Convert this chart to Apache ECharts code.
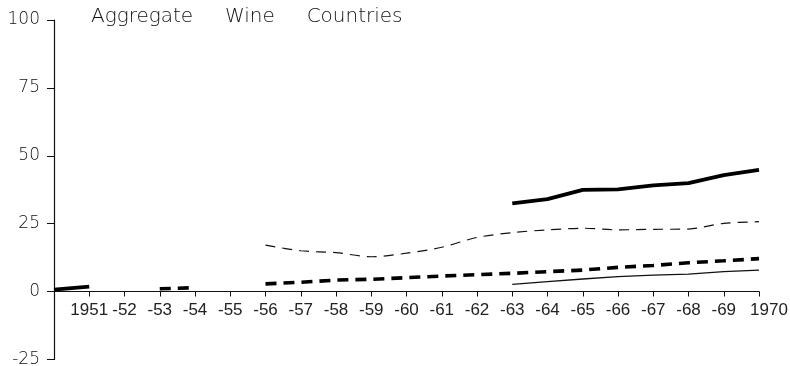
<!DOCTYPE html>
<html>
<head>
<meta charset="utf-8">
<script src="https://cdn.jsdelivr.net/npm/echarts@6/dist/echarts.min.js"></script>
<style>
html,body{margin:0;padding:0;background:#fff;}
#c{width:790px;height:366px;}
</style>
</head>
<body>
<div id="c"></div>
<script>
const years = [1950,1951,1952,1953,1954,1955,1956,1957,1958,1959,1960,1961,1962,1963,1964,1965,1966,1967,1968,1969,1970];
const tickLabels = ['', '1951', '-52', '-53', '-54', '-55', '-56', '-57', '-58', '-59', '-60', '-61', '-62', '-63', '-64', '-65', '-66', '-67', '-68', '-69', '1970'];
const yTicks = [-25, 0, 25, 50, 75, 100];
const titleText = 'Aggregate     Wine     Countries';

const thickSolid  = [0.7, 1.8, null, null, null, null, null, null, null, null, null, null, null, 32.5, 34.0, 37.4, 37.6, 39.1, 39.9, 42.9, 44.8];
const thickDashed = [null, null, null, 1.0, 1.4, null, 2.8, 3.4, 4.2, 4.5, 5.1, 5.7, 6.2, 6.7, 7.3, 7.9, 8.9, 9.6, 10.6, 11.3, 12.1];
const thinDashed  = [null, null, null, null, null, null, 17.1, 15.0, 14.3, 12.8, 14.1, 16.3, 19.9, 21.7, 22.7, 23.3, 22.7, 22.9, 23.0, 25.1, 25.7];
const thinSolid   = [null, null, null, null, null, null, null, null, null, null, null, null, null, 2.6, 3.6, 4.6, 5.5, 6.0, 6.4, 7.3, 7.9];

function pairs(vals){ return years.map((y,i)=>[y, vals[i]]); }

const W = 790, H = 366;
const plotTop = 20, plotLeft = 54, plotRight = 31, zeroY = 291.5, bottomY = 359.4;
const axisCol = '#111';
const yLabStyle = {fontFamily:'DejaVu Sans', fontWeight:200, fontSize:17, color:'#111'};
const xLabFont = 'Liberation Sans Narrow, Liberation Sans';

const chart = echarts.init(document.getElementById('c'), null, {renderer:'canvas'});
chart.setOption({
  backgroundColor:'#ffffff',
  animation:false,
  title:{
    text:titleText,
    left:86, top:2,
    textStyle:{fontFamily:'DejaVu Sans', fontSize:20, fontWeight:200, color:'#111'}
  },
  grid:[
    {left:plotLeft, right:plotRight, top:plotTop, bottom:H-zeroY, containLabel:false, outerBoundsMode:'none'},
    {left:plotLeft, right:plotRight, top:zeroY, bottom:H-bottomY, containLabel:false, outerBoundsMode:'none'}
  ],
  xAxis:[
    {
      gridIndex:0, type:'value', min:years[0], max:years[years.length-1], interval:1,
      axisLine:{show:true, onZero:false, lineStyle:{color:axisCol, width:1.2}},
      axisTick:{show:true, length:5, lineStyle:{color:axisCol, width:1}},
      splitLine:{show:false},
      axisLabel:{
        margin:10, showMinLabel:true, showMaxLabel:true, hideOverlap:false,
        fontFamily:xLabFont, fontSize:17, color:'#222',
        formatter:function(v){ const i = Math.round(v) - years[0]; const t = tickLabels[i] || ''; return i === tickLabels.length-1 ? '{r|'+t+'}' : t; },
        rich:{r:{fontFamily:xLabFont, fontSize:17, color:'#222', padding:[0,0,0,20]}}
      }
    },
    {
      gridIndex:1, type:'value', min:years[0], max:years[years.length-1], show:false
    }
  ],
  yAxis:[
    {
      gridIndex:0, type:'value', min:0, max:yTicks[yTicks.length-1], interval:25,
      axisLine:{show:true, onZero:false, lineStyle:{color:axisCol, width:1.2}},
      axisTick:{show:true, length:7, lineStyle:{color:axisCol, width:1}},
      splitLine:{show:false},
      axisLabel:Object.assign({margin:14}, yLabStyle)
    },
    {
      gridIndex:1, type:'value', min:yTicks[0], max:0, interval:25,
      axisLine:{show:true, onZero:false, lineStyle:{color:axisCol, width:1.2}},
      axisTick:{show:true, length:7, lineStyle:{color:axisCol, width:1}},
      splitLine:{show:false},
      axisLabel:Object.assign({margin:14, showMaxLabel:false,
        formatter:function(v){ return v === 0 ? '' : String(v); }}, yLabStyle)
    }
  ],
  series:[
    {name:'thick solid', type:'line', xAxisIndex:0, yAxisIndex:0, data:pairs(thickSolid), showSymbol:false, connectNulls:false,
     lineStyle:{color:'#000', width:3.8, type:'solid'}},
    {name:'thick dashed', type:'line', xAxisIndex:0, yAxisIndex:0, data:pairs(thickDashed), showSymbol:false, connectNulls:false,
     lineStyle:{color:'#000', width:3.6, type:[11,7]}},
    {name:'thin dashed', type:'line', xAxisIndex:0, yAxisIndex:0, data:pairs(thinDashed), showSymbol:false, connectNulls:false, smooth:0.3,
     lineStyle:{color:'#111', width:1.2, type:[10,7]}},
    {name:'thin solid', type:'line', xAxisIndex:0, yAxisIndex:0, data:pairs(thinSolid), showSymbol:false, connectNulls:false,
     lineStyle:{color:'#111', width:1.3, type:'solid'}}
  ]
});
</script>
</body>
</html>
